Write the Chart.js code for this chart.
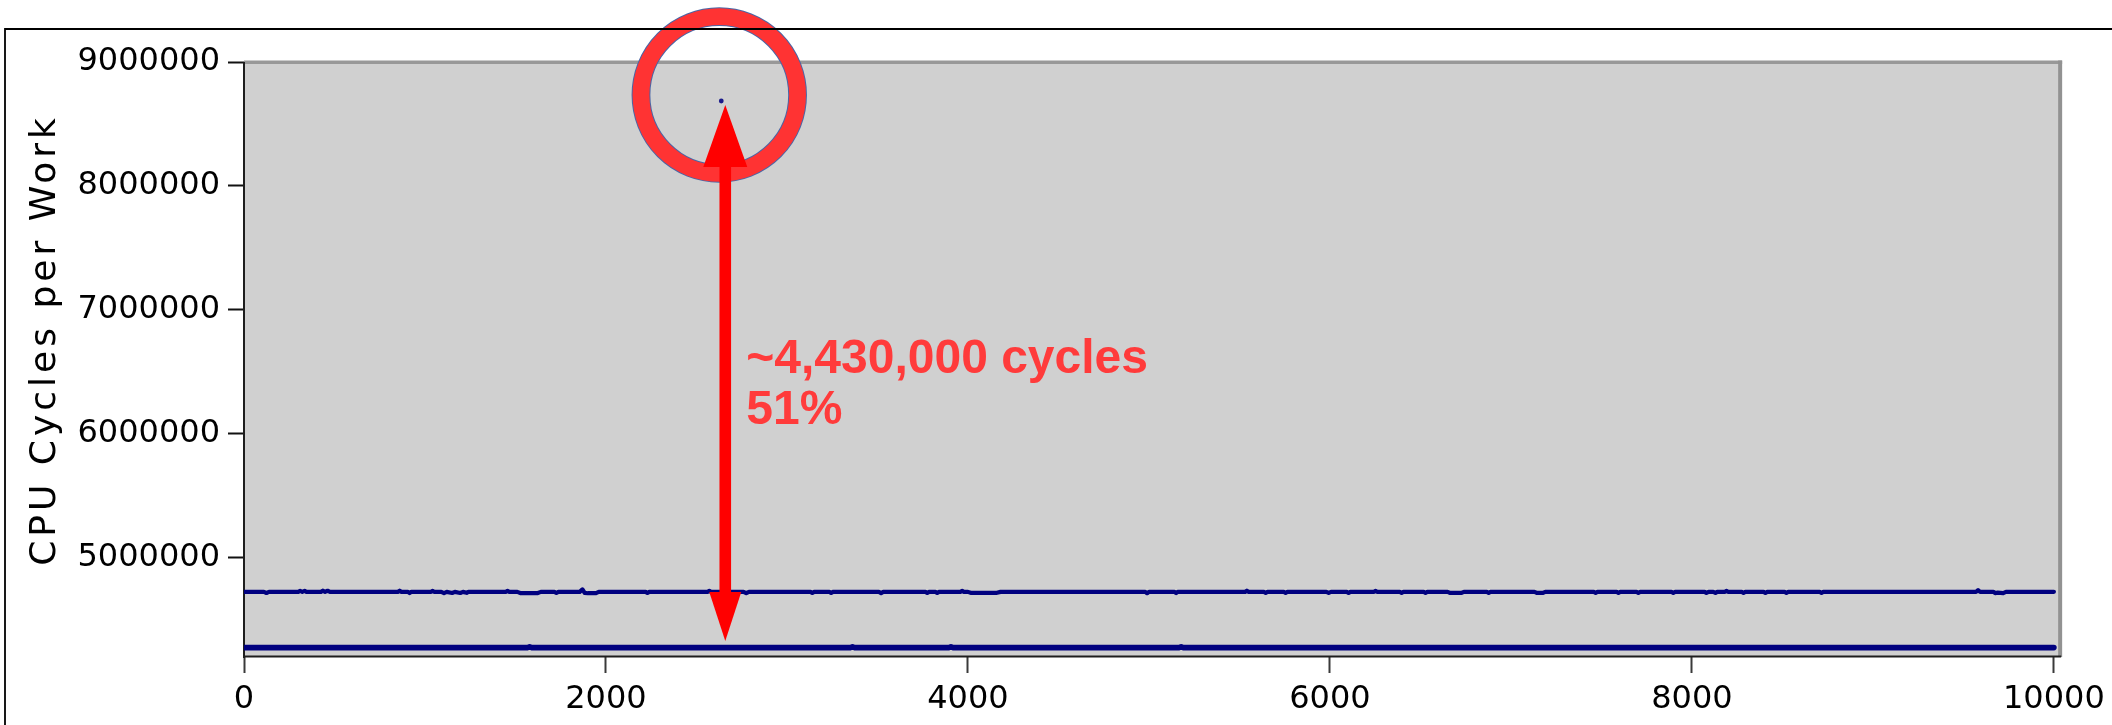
<!DOCTYPE html>
<html>
<head>
<meta charset="utf-8">
<script src="https://cdn.jsdelivr.net/npm/chart.js@4.4.1/dist/chart.umd.min.js"></script>
<style>
  html, body { margin: 0; padding: 0; background: #ffffff; }
  #wrap { width: 2112px; height: 725px; position: relative; }
  canvas { display: block; }
</style>
</head>
<body>
<div id="wrap"><canvas id="c" width="2112" height="725"></canvas></div>
<script>
// ---------------- data ----------------
const xTicks = [0, 2000, 4000, 6000, 8000, 10000];
const yTicks = [5000000, 6000000, 7000000, 8000000, 9000000];
const yAxisTitle = 'CPU Cycles per Work';
const noteLines = ['~4,430,000 cycles', '51%'];

// upper series (about 4.72M with small wiggles)
const upperX = [
  0, 110, 124, 138, 300, 310, 322, 335, 345, 425, 435, 448, 462, 475,
  850, 860, 870, 905, 915, 925, 1032, 1042, 1052,
  1090, 1105, 1120, 1150, 1165, 1195, 1210, 1230, 1240,
  1446, 1456, 1466, 1510, 1530, 1620, 1640, 1715, 1726, 1737,
  1855, 1870, 1882, 1900, 1945, 1960, 2219, 2229, 2239,
  2561, 2571, 2581, 2760, 2775, 2790, 3130, 3140, 3150, 3234, 3244, 3254,
  3508, 3520, 3532, 3765, 3775, 3785, 3820, 3830, 3840, 3958, 3968, 3978,
  4000, 4015, 4160, 4180, 4980, 4990, 5000, 5140, 5150, 5160,
  5531, 5541, 5551, 5635, 5645, 5655, 5745, 5755, 5765,
  5980, 5993, 6006, 6093, 6103, 6113, 6242, 6252, 6262,
  6386, 6396, 6406, 6518, 6528, 6538, 6650, 6665, 6725, 6740,
  6867, 6877, 6887, 7130, 7145, 7175, 7190, 7458, 7468, 7478,
  7584, 7594, 7604, 7694, 7704, 7714, 7887, 7897, 7907,
  8070, 8080, 8092, 8118, 8130, 8140, 8181, 8191, 8201,
  8275, 8285, 8295, 8396, 8406, 8416, 8512, 8522, 8532, 8706, 8716, 8726,
  9570, 9581, 9592, 9665, 9675, 9690, 9720, 9735, 10000
];
const upperY = [
  4722000, 4722000, 4713000, 4722000, 4722000, 4730000, 4722000, 4730000, 4722000, 4722000, 4731000, 4722000, 4731000, 4722000,
  4722000, 4731000, 4722000, 4722000, 4712000, 4722000, 4722000, 4729000, 4722000,
  4722000, 4712000, 4722000, 4713000, 4722000, 4713000, 4722000, 4714000, 4722000,
  4722000, 4730000, 4722000, 4722000, 4711000, 4711000, 4722000, 4722000, 4713000, 4722000,
  4722000, 4742000, 4714000, 4711000, 4712000, 4722000, 4722000, 4713000, 4722000,
  4722000, 4730000, 4722000, 4722000, 4711000, 4722000, 4722000, 4713000, 4722000, 4722000, 4713000, 4722000,
  4722000, 4712000, 4722000, 4722000, 4713000, 4722000, 4722000, 4713000, 4722000, 4722000, 4730000, 4722000,
  4722000, 4714000, 4714000, 4722000, 4722000, 4711000, 4722000, 4722000, 4712000, 4722000,
  4722000, 4731000, 4722000, 4722000, 4714000, 4722000, 4722000, 4714000, 4722000,
  4722000, 4713000, 4722000, 4722000, 4713000, 4722000, 4722000, 4729000, 4722000,
  4722000, 4714000, 4722000, 4722000, 4714000, 4722000, 4722000, 4713000, 4713000, 4722000,
  4722000, 4714000, 4722000, 4722000, 4713000, 4713000, 4722000, 4722000, 4714000, 4722000,
  4722000, 4714000, 4722000, 4722000, 4714000, 4722000, 4722000, 4714000, 4722000,
  4722000, 4713000, 4722000, 4722000, 4713000, 4722000, 4722000, 4729000, 4722000,
  4722000, 4714000, 4722000, 4722000, 4713000, 4722000, 4722000, 4714000, 4722000, 4722000, 4714000, 4722000,
  4722000, 4735000, 4722000, 4722000, 4712000, 4716000, 4712000, 4722000, 4722000
];

// lower series (about 4.27M, nearly flat)
const lowerX = [0, 1568, 1578, 1588, 3352, 3362, 3372, 3896, 3906, 3916, 5168, 5178, 5188, 10000];
const lowerY = [4272000, 4272000, 4279000, 4272000, 4272000, 4279000, 4272000, 4272000, 4279000, 4272000, 4272000, 4279000, 4272000, 4272000];

// single outlier point
const spikeX = [2637];
const spikeY = [8685000];

// ---------------- build ----------------
const toPts = (xs, ys) => xs.map((x, i) => ({ x: x, y: ys[i] }));
const NAVY = '#00007f';

const framePlugin = {
  id: 'frame',
  beforeDatasetsDraw(chart) {
    const { ctx, chartArea: a } = chart;
    ctx.save();
    ctx.fillStyle = '#d0d0d0';
    ctx.fillRect(a.left, a.top, a.right - a.left, a.bottom - a.top);
    ctx.fillStyle = '#989898';
    ctx.fillRect(a.left, a.top - 1.5, a.right - a.left + 1, 3.5);
    ctx.fillStyle = '#929292';
    ctx.fillRect(a.right - 3, a.top - 1.5, 4, a.bottom - a.top + 1.5);
    ctx.fillStyle = '#1e1e1e';
    ctx.fillRect(a.left - 1, a.top, 2, a.bottom - a.top + 1);
    ctx.fillRect(a.left - 1, a.bottom - 1.5, a.right - a.left + 1, 2);
    ctx.restore();
  },
  afterDraw(chart) {
    const { ctx } = chart;
    ctx.save();
    // outer frame
    ctx.strokeStyle = '#000';
    ctx.lineWidth = 1.8;
    ctx.beginPath();
    ctx.moveTo(5, 725);
    ctx.lineTo(5, 29);
    ctx.lineTo(2112, 29);
    ctx.stroke();
    // y axis title
    ctx.translate(55, 340);
    ctx.rotate(-Math.PI / 2);
    ctx.font = '36px "DejaVu Sans"';
    ctx.letterSpacing = '4px';
    ctx.fillStyle = '#000';
    ctx.textAlign = 'center';
    ctx.textBaseline = 'alphabetic';
    ctx.fillText(yAxisTitle, 0, 0);
    ctx.restore();
  }
};

const notePlugin = {
  id: 'note',
  afterDatasetsDraw(chart) {
    const { ctx } = chart;
    const xs = chart.scales.x, ys = chart.scales.y;
    const px = xs.getPixelForValue(spikeX[0]);
    const py = ys.getPixelForValue(spikeY[0]);
    const lowPy = ys.getPixelForValue(lowerY[0]);
    ctx.save();
    // ring around the outlier
    const cx = px - 2, cy = py - 6;
    ctx.beginPath();
    ctx.arc(cx, cy, 78.3, 0, Math.PI * 2);
    ctx.strokeStyle = '#4a66a6';
    ctx.lineWidth = 18.8;
    ctx.stroke();
    ctx.beginPath();
    ctx.arc(cx, cy, 78.3, 0, Math.PI * 2);
    ctx.strokeStyle = '#ff3333';
    ctx.lineWidth = 16.8;
    ctx.stroke();
    // double arrow
    const ax = px + 4;
    const topTip = py + 4, topBase = topTip + 62;
    const botTip = lowPy - 6.6, botBase = botTip - 49;
    ctx.fillStyle = '#ff0000';
    ctx.fillRect(ax - 5.8, topBase - 1, 11.6, botBase - topBase + 2);
    ctx.beginPath();
    ctx.moveTo(ax, topTip);
    ctx.lineTo(ax + 22, topBase);
    ctx.lineTo(ax - 22, topBase);
    ctx.closePath();
    ctx.fill();
    ctx.beginPath();
    ctx.moveTo(ax, botTip);
    ctx.lineTo(ax + 16, botBase);
    ctx.lineTo(ax - 16, botBase);
    ctx.closePath();
    ctx.fill();
    // note text
    ctx.font = 'bold 48px "Liberation Sans"';
    ctx.fillStyle = '#ff3b3b';
    ctx.textAlign = 'left';
    ctx.textBaseline = 'alphabetic';
    ctx.fillText(noteLines[0], ax + 21, 373);
    ctx.fillText(noteLines[1], ax + 21, 423.5);
    ctx.restore();
  }
};

const tickFont = { family: '"DejaVu Sans"', size: 32 };

new Chart(document.getElementById('c'), {
  type: 'scatter',
  data: {
    datasets: [
      {
        data: toPts(upperX, upperY),
        showLine: true,
        borderColor: NAVY,
        borderWidth: 4.2,
        pointRadius: 0,
        borderJoinStyle: 'round',
        borderCapStyle: 'round',
        tension: 0
      },
      {
        data: toPts(lowerX, lowerY),
        showLine: true,
        borderColor: NAVY,
        borderWidth: 5.6,
        pointRadius: 0,
        borderJoinStyle: 'round',
        borderCapStyle: 'round',
        tension: 0
      },
      {
        data: toPts(spikeX, spikeY),
        showLine: false,
        pointRadius: 2.4,
        pointBackgroundColor: '#1a1a8a',
        pointBorderWidth: 0
      }
    ]
  },
  options: {
    responsive: false,
    animation: false,
    events: [],
    layout: { padding: { left: 0, top: 62, right: 49, bottom: 0 } },
    plugins: { legend: { display: false }, tooltip: { enabled: false }, title: { display: false } },
    scales: {
      x: {
        type: 'linear',
        position: 'bottom',
        min: 0,
        max: 10040,
        afterBuildTicks: (s) => { s.ticks = xTicks.map(v => ({ value: v })); },
        afterFit: (s) => { s.height = 68; },
        grid: { drawOnChartArea: false, drawTicks: true, tickLength: 16, tickColor: '#3a3a3a', tickWidth: 2 },
        border: { display: false },
        ticks: { font: tickFont, color: '#000', padding: 7, maxRotation: 0, autoSkip: false, callback: (v) => String(v) }
      },
      y: {
        type: 'linear',
        min: 4196000,
        max: 9000000,
        afterBuildTicks: (s) => { s.ticks = yTicks.map(v => ({ value: v })); },
        afterFit: (s) => { s.width = 244; },
        grid: { drawOnChartArea: false, drawTicks: true, tickLength: 16, tickColor: '#111', tickWidth: 2 },
        border: { display: false },
        ticks: { font: tickFont, color: '#000', padding: 8, autoSkip: false, callback: (v) => String(v) }
      }
    }
  },
  plugins: [framePlugin, notePlugin]
});
</script>
</body>
</html>
